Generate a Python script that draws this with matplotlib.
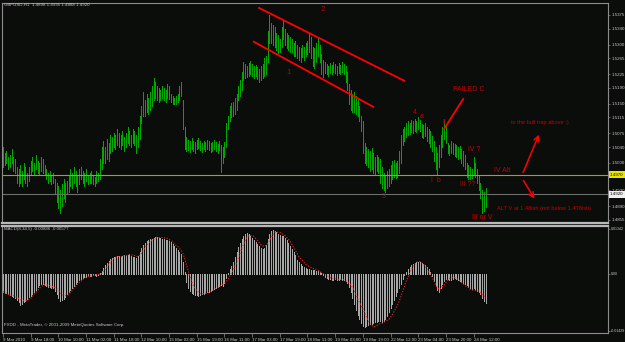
import numpy as np
import matplotlib.pyplot as plt

plt.rcParams['font.family'] = ['Liberation Sans', 'DejaVu Sans']

# GBPUSD H1, 9-24 Mar 2010. prices kept as pips above base
base = 1.48
hi_pips = [240, 225, 230, 215, 220, 235, 215, 210, 190, 185,
           195, 180, 200, 190, 175, 190, 205, 215, 200, 220,
           205, 200, 215, 210, 195, 185, 175, 180, 170, 175,
           160, 150, 140, 130, 145, 160, 150, 155, 170, 185,
           175, 190, 180, 170, 185, 190, 180, 175, 185, 170,
           175, 180, 170, 165, 180, 175, 210, 240, 255, 240,
           260, 250, 270, 265, 275, 270, 285, 275, 270, 280,
           265, 275, 290, 280, 270, 285, 280, 270, 290, 320,
           345, 380, 360, 375, 365, 380, 395, 415, 405, 395,
           390, 385, 395, 390, 385, 400, 395, 375, 370, 365,
           370, 375, 395, 405, 360, 290, 265, 258, 255, 262,
           256, 252, 258, 262, 255, 250, 256, 252, 258, 255,
           250, 254, 258, 252, 248, 255, 245, 240, 252, 300,
           320, 345, 352, 355, 365, 375, 395, 410, 430, 456,
           450, 445, 452, 458, 450, 445, 448, 442, 438, 445,
           450, 465, 470, 535, 575, 555, 550, 545, 530, 525,
           515, 545, 562, 540, 530, 525, 520, 515, 505, 510,
           500, 495, 490, 500, 495, 505, 510, 528, 520, 495,
           490, 505, 518, 500, 475, 460, 455, 450, 445, 452,
           448, 455, 450, 446, 452, 448, 455, 450, 445, 430,
           400, 385, 375, 380, 370, 365, 345, 320, 305, 250,
           240, 235, 230, 238, 225, 215, 220, 215, 210, 190,
           175, 170, 178, 185, 195, 205, 207, 200, 205, 230,
           270, 285, 290, 300, 305, 300, 308, 305, 310, 305,
           315, 308, 298, 295, 300, 290, 285, 280, 268, 255,
           240, 225, 245, 270, 290, 305, 295, 250, 245, 255,
           250, 248, 245, 240, 242, 235, 230, 220, 200, 195,
           190, 185, 215, 200, 185, 170, 150, 130, 125, 135]
lo_pips = [190, 195, 200, 185, 190, 200, 180, 175, 150, 140,
           150, 140, 160, 150, 140, 155, 170, 180, 170, 185,
           175, 170, 180, 175, 170, 160, 150, 155, 145, 150,
           120, 100, 85, 72, 90, 110, 100, 120, 125, 140,
           135, 150, 140, 125, 145, 160, 150, 140, 155, 145,
           150, 150, 145, 140, 150, 155, 160, 185, 200, 200,
           210, 205, 225, 230, 240, 235, 245, 240, 235, 245,
           230, 240, 250, 245, 240, 250, 245, 225, 240, 260,
           300, 320, 320, 330, 325, 335, 345, 360, 365, 360,
           355, 360, 365, 360, 355, 365, 362, 355, 350, 350,
           350, 355, 360, 370, 285, 235, 230, 232, 228, 236,
           230, 226, 234, 238, 232, 228, 234, 230, 236, 232,
           228, 230, 236, 230, 226, 232, 176, 200, 215, 240,
           285, 305, 315, 320, 325, 335, 360, 370, 385, 410,
           415, 418, 420, 425, 420, 415, 420, 412, 405, 410,
           415, 420, 425, 455, 505, 505, 500, 495, 485, 478,
           480, 495, 515, 500, 490, 485, 482, 480, 470, 472,
           465, 460, 455, 468, 462, 470, 475, 480, 465, 445,
           440, 455, 470, 455, 425, 418, 428, 425, 420, 428,
           425, 430, 428, 422, 428, 425, 430, 425, 405, 385,
           350, 335, 330, 330, 325, 320, 305, 280, 225, 200,
           195, 190, 180, 185, 175, 172, 178, 175, 150, 135,
           130, 126, 135, 140, 150, 160, 165, 162, 165, 175,
           200, 245, 255, 265, 270, 272, 278, 275, 280, 278,
           285, 280, 265, 262, 268, 255, 250, 240, 230, 205,
           185, 168, 190, 215, 240, 260, 250, 225, 220, 225,
           222, 218, 215, 210, 212, 200, 192, 185, 165, 160,
           158, 162, 170, 165, 150, 130, 110, 72, 78, 88]

# MACD(8,34,5) in units of 0.0001
macd_main = [-54, -57, -57, -60, -63, -66, -69, -72, -78, -84,
             -93, -90, -84, -81, -75, -69, -66, -60, -54, -48,
             -39, -33, -30, -30, -33, -36, -39, -39, -42, -42,
             -51, -60, -72, -81, -78, -75, -69, -60, -54, -48,
             -42, -36, -30, -24, -18, -15, -12, -9, -9, -6,
             -6, -6, -3, -3, -6, -3, 3, 9, 18, 27,
             33, 39, 45, 48, 51, 51, 54, 54, 51, 54,
             57, 54, 57, 60, 54, 51, 51, 48, 54, 66,
             78, 87, 93, 99, 102, 105, 105, 108, 111, 111,
             108, 108, 105, 105, 102, 102, 99, 96, 90, 84,
             78, 72, 66, 60, 36, 6, -24, -42, -51, -57,
             -60, -63, -63, -66, -63, -60, -60, -57, -54, -54,
             -51, -48, -45, -42, -39, -36, -33, -36, -27, -12,
             3, 15, 24, 36, 51, 66, 81, 93, 105, 114,
             120, 123, 120, 114, 108, 102, 96, 90, 84, 78,
             75, 78, 87, 105, 120, 129, 132, 129, 126, 120,
             117, 114, 114, 108, 102, 93, 84, 75, 66, 57,
             42, 36, 30, 24, 21, 18, 15, 15, 12, 12,
             12, 9, 9, 6, 3, -3, -9, -12, -15, -15,
             -18, -18, -15, -18, -18, -15, -18, -18, -21, -27,
             -39, -54, -72, -90, -108, -123, -135, -147, -156, -159,
             -156, -153, -150, -150, -147, -144, -144, -141, -141, -144,
             -141, -135, -126, -114, -102, -90, -78, -66, -54, -42,
             -30, -15, -3, 6, 15, 21, 27, 30, 33, 36,
             36, 36, 33, 30, 27, 21, 15, 6, -6, -21,
             -36, -48, -54, -42, -30, -21, -15, -15, -18, -18,
             -15, -12, -15, -18, -21, -24, -27, -30, -33, -39,
             -42, -45, -42, -48, -51, -54, -60, -72, -81, -89]
macd_signal = [-54, -57, -60, -63, -63, -66, -66, -69, -72, -75,
               -78, -81, -81, -81, -81, -78, -75, -69, -63, -57,
               -51, -45, -39, -36, -33, -33, -36, -36, -39, -39,
               -42, -45, -51, -57, -63, -66, -66, -66, -63, -57,
               -51, -45, -39, -33, -27, -24, -18, -15, -12, -9,
               -9, -6, -6, -6, -3, -3, -3, 0, 6, 12,
               18, 27, 33, 39, 45, 48, 51, 51, 51, 51,
               54, 54, 54, 57, 57, 54, 54, 51, 51, 54,
               60, 69, 78, 84, 90, 96, 99, 102, 105, 108,
               108, 108, 108, 108, 105, 105, 102, 99, 96, 90,
               84, 81, 75, 69, 60, 45, 27, 9, -9, -24,
               -36, -45, -51, -57, -60, -60, -60, -60, -57, -57,
               -54, -51, -48, -45, -42, -39, -36, -33, -30, -24,
               -18, -9, 0, 9, 21, 33, 45, 60, 75, 87,
               99, 108, 114, 114, 114, 111, 105, 99, 93, 87,
               84, 81, 84, 90, 99, 108, 117, 123, 126, 123,
               123, 120, 117, 114, 108, 102, 96, 87, 78, 69,
               60, 51, 45, 39, 33, 27, 24, 21, 18, 15,
               15, 12, 9, 6, 3, 0, -3, -6, -9, -12,
               -15, -15, -15, -18, -18, -18, -18, -18, -21, -24,
               -30, -33, -42, -51, -63, -75, -87, -96, -105, -117,
               -129, -141, -150, -156, -159, -159, -156, -153, -150, -150,
               -147, -144, -141, -138, -132, -123, -114, -105, -93, -84,
               -69, -54, -39, -24, -12, 0, 12, 21, 27, 33,
               36, 36, 33, 27, 21, 15, 6, -3, -12, -21,
               -33, -42, -48, -45, -39, -33, -27, -21, -15, -12,
               -12, -12, -15, -18, -21, -27, -30, -36, -39, -42,
               -48, -48, -51, -51, -51, -54, -57, -63, -66, -72]

date_labels = ['9 Mar 2010', '9 Mar 18:00', '10 Mar 10:00', '11 Mar 02:00',
               '11 Mar 18:00', '12 Mar 10:00', '15 Mar 03:00', '15 Mar 19:00',
               '16 Mar 11:00', '17 Mar 03:00', '17 Mar 19:00', '18 Mar 11:00',
               '19 Mar 03:00', '19 Mar 19:00', '22 Mar 12:00', '23 Mar 04:00',
               '23 Mar 20:00', '24 Mar 12:00']
# 1.4965 sits under the yellow level box, so it gets no label of its own
price_ticks = [1.5375, 1.5340, 1.5300, 1.5265, 1.5225, 1.5190, 1.5150, 1.5115,
               1.5075, 1.5040, 1.5000, 1.4930, 1.4890, 1.4855]
alt_level = 1.4970
bid = 1.4920

hi = base + np.array(hi_pips) / 10000
lo = base + np.array(lo_pips) / 10000
macd = np.array(macd_main) / 10000
sig = np.array(macd_signal) / 10000
x = np.arange(len(hi))

bg = '#0b0d0b'
grey = '#8c8c8c'
txt = '#c8c8c8'
red = '#c80000'
fs_axis = 3.15

fig = plt.figure(figsize=(6.25, 3.42), dpi=100, facecolor=bg)
ax = fig.add_axes([2/625, 119/342, 606/625, 220/342], facecolor=bg)
am = fig.add_axes([2/625, 9/342, 606/625, 107/342], facecolor=bg)

for a in (ax, am):
    a.set_xlim(-0.58, 349.7)
    for s in a.spines.values():
        s.set_color(grey)
        s.set_linewidth(0.8)
    a.yaxis.tick_right()
ax.spines['bottom'].set_color('#b8b8b8')
ax.spines['bottom'].set_linewidth(1.6)
am.spines['top'].set_color('#b8b8b8')
am.spines['top'].set_linewidth(1.6)

# price bars
ax.vlines(x, lo, hi, color='#00a800', lw=0.7, antialiased=False)
ax.axhline(alt_level, color='#a0a028', lw=0.8)
ax.axhline(bid, color='#6e6e6e', lw=0.8)
ax.set_ylim(1.48473, 1.54054)
ax.set_xticks([])
ax.set_yticks(price_ticks)
ax.set_yticklabels(['%.4f' % p for p in price_ticks])
ax.tick_params(axis='y', colors=grey, labelcolor=txt, labelsize=fs_axis,
               length=1.5, width=0.5, pad=0.8)
ax.text(1.003, alt_level, '%.4f' % alt_level, transform=ax.get_yaxis_transform(),
        fontsize=fs_axis, color='black', va='center', ha='left', zorder=5,
        bbox=dict(boxstyle='square,pad=0.3', fc='#e6e600', ec='none'))
ax.text(1.003, bid, '%.4f' % bid, transform=ax.get_yaxis_transform(),
        fontsize=fs_axis, color='black', va='center', ha='left', zorder=5,
        bbox=dict(boxstyle='square,pad=0.3', fc='#f0f0f0', ec='none'))

# wave markup
ax.plot([148, 232], [1.5393, 1.5208], color='#ff0000', lw=1.3)
ax.plot([145, 214], [1.5307, 1.5142], color='#ff0000', lw=1.3)
ax.plot([255, 266], [1.5086, 1.5162], color='#ff0000', lw=1.3)
ax.annotate('', xy=(310.4, 1.5078), xytext=(300, 1.4969),
            arrowprops=dict(arrowstyle='->', color='#ff0000', lw=1.1, mutation_scale=9))
ax.annotate('', xy=(308, 1.4903), xytext=(300, 1.4961),
            arrowprops=dict(arrowstyle='->', color='#ff0000', lw=1.1, mutation_scale=9))

marks = [('2', 185, 1.53877, 5.5), ('1', 165.3, 1.52279, 5.5),
         ('FAILED C', 269, 1.51847, 5), ('4', 238.2, 1.51264, 5),
         ('a', 242.2, 1.51163, 5), ('3', 220.2, 1.49133, 5),
         ('I  b', 250, 1.49539, 5), ('II', 254.9, 1.5101, 5),
         ('IV ?', 272.3, 1.50325, 5), ('IV Alt', 288.4, 1.49793, 5),
         ('III ??', 268.8, 1.49437, 5), ('III or V', 276.9, 1.486, 5),
         ('to the bull trap above :)', 310.4, 1.5101, 4.1),
         ('ALT V at 1.48ish (not below 1.478ish)', 312.7, 1.48829, 4.1)]
for s, mx, my, fs in marks:
    ax.text(mx, my, s, color=red, fontsize=fs, ha='center', va='center')

# MACD panel
am.vlines(x, 0, macd, color='#a8a8a8', lw=0.7, antialiased=False)
am.plot(x, sig, color='#ff2020', lw=0.8, ls=(0, (1, 1.5)))
am.set_ylim(-0.01785, 0.01425)
am.set_yticks([0.0135, 0, -0.01725])
am.set_yticklabels(['0.01342', '0.00', '-0.01429'])
am.tick_params(axis='y', colors=grey, labelcolor=txt, labelsize=2.6,
               length=1.5, width=0.5, pad=0.6)
am.set_xticks(np.arange(len(date_labels)) * 16)
am.set_xticklabels(date_labels)
am.tick_params(axis='x', colors=grey, labelcolor=txt, labelsize=fs_axis,
               length=3, width=0.5, pad=0.8)
for lbl in am.get_xticklabels():
    lbl.set_horizontalalignment('left')

fig.text(4/625, 1 - 5/342, 'GBPUSD,H1  1.4898 1.4935 1.4888 1.4920',
         color=txt, fontsize=fs_axis, va='center')
fig.text(4/625, 1 - 229/342, 'MACD(8,34,5) -0.00886 -0.00577',
         color=txt, fontsize=fs_axis, va='center')
fig.text(4/625, 1 - 325/342,
         'FXDD - MetaTrader, \u00a9 2001-2009 MetaQuotes Software Corp.',
         color=txt, fontsize=fs_axis, va='center')

fig.savefig('out.png', dpi=100, facecolor=bg)
